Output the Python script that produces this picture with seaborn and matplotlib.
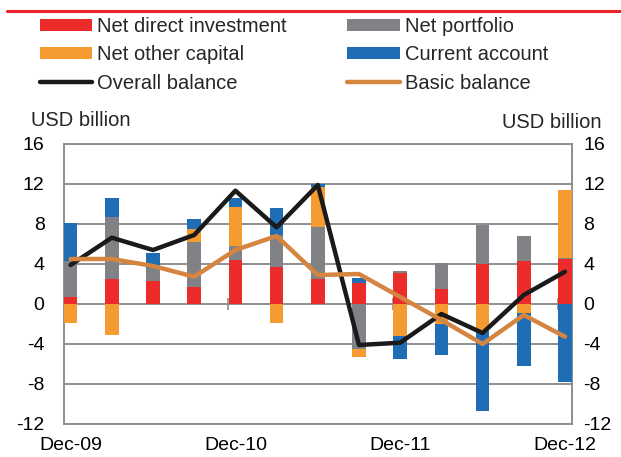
import numpy as np
import pandas as pd
import matplotlib
matplotlib.use("Agg")
import matplotlib.pyplot as plt
from matplotlib.patches import Patch
from matplotlib.lines import Line2D
import seaborn as sns

# ---- data (USD billion, quarterly Dec-09 .. Dec-12) ----
quarters = ["Dec-09", "Mar-10", "Jun-10", "Sep-10", "Dec-10", "Mar-11", "Jun-11",
            "Sep-11", "Dec-11", "Mar-12", "Jun-12", "Sep-12", "Dec-12"]
net_direct = [0.73, 2.5, 2.33, 1.73, 4.4, 3.73, 2.47, 2.07, 3.07, 1.5, 4.0, 4.3, 4.47]
net_portfolio = [3.57, 6.17, 1.27, 4.5, 1.4, 3.17, 5.2, -4.53, 0.26, 2.63, 3.9, 2.5, 0.16]
net_other = [-1.93, -3.1, 0.0, 1.24, 3.93, -1.93, 4.0, -0.74, -3.2, -2.0, -2.7, -0.87, 6.77]
current_account = [3.77, 1.9, 1.47, 1.0, 0.84, 2.73, 0.33, 0.5, -2.33, -3.1, -7.97, -5.33, -7.83]
overall_balance = [3.9, 6.63, 5.4, 6.9, 11.33, 7.67, 11.9, -4.1, -3.87, -1.0, -2.9, 0.9, 3.23]
basic_balance = [4.5, 4.5, 3.8, 2.73, 5.4, 6.8, 2.9, 3.0, 0.7, -1.6, -4.0, -1.1, -3.27]
tick_labels = ["Dec-09", "Dec-10", "Dec-11", "Dec-12"]
y_ticks = [16, 12, 8, 4, 0, -4, -8, -12]

bar_series = [("Net direct investment", net_direct, "#EC2B2B"),
              ("Net portfolio", net_portfolio, "#818285"),
              ("Net other capital", net_other, "#F59B2F"),
              ("Current account", current_account, "#1F6DB5")]
line_series = [("Overall balance", overall_balance, "#1A1A1A"),
               ("Basic balance", basic_balance, "#D5853F")]

sns.set_theme(style="white")
plt.rcParams["font.family"] = ["Liberation Sans", "DejaVu Sans"]

GRID = "#8E8E90"
FS_TICK = 14
FS_TEXT = 14.5

fig = plt.figure(figsize=(6.21, 4.57), dpi=100)
ax = fig.add_axes([64 / 621, 33 / 457, 508 / 621, 280 / 457])

df = pd.DataFrame({"q": quarters, "x": np.arange(len(quarters))})
x = df["x"].to_numpy()

pos_bottom = np.zeros(len(x))
neg_bottom = np.zeros(len(x))
width = 0.33
for name, vals, col in bar_series:
    v = np.array(vals, dtype=float)
    pos = np.where(v > 0, v, 0)
    neg = np.where(v < 0, v, 0)
    ax.bar(x, pos, width=width, bottom=pos_bottom, color=col, linewidth=0, zorder=3)
    ax.bar(x, neg, width=width, bottom=neg_bottom, color=col, linewidth=0, zorder=3)
    pos_bottom += pos
    neg_bottom += neg

for name, vals, col in line_series:
    d = pd.DataFrame({"x": x, "v": vals})
    sns.lineplot(data=d, x="x", y="v", ax=ax, color=col, linewidth=3.2, zorder=4,
                 legend=False)

ymin, ymax = -12, 16
ax.set_ylim(ymin, ymax)
ax.set_xlim(-0.16, 12.17)
ax.set_yticks(y_ticks)
ax.set_yticklabels([str(t) for t in y_ticks], fontsize=FS_TICK)
ax.set_xticks([0, 4, 8, 12])
ax.set_xticklabels(tick_labels, fontsize=FS_TICK)
ax.tick_params(axis="x", length=0, pad=9, colors="black")
ax.tick_params(axis="y", length=0, pad=14, colors="black")
ax.set_xlabel("")
ax.set_ylabel("")
ax.grid(axis="y", color=GRID, linewidth=1.4, zorder=0)
ax.grid(axis="x", visible=False)
for s in ax.spines.values():
    s.set_color(GRID)
    s.set_linewidth(1.4)

# right axis labels
ax2 = ax.twinx()
ax2.set_ylim(ymin, ymax)
ax2.set_yticks(y_ticks)
ax2.set_yticklabels([str(t) for t in y_ticks], fontsize=FS_TICK)
ax2.tick_params(axis="y", length=0, pad=8, colors="black")
ax2.grid(False)
for s in ax2.spines.values():
    s.set_visible(False)

# small tick marks crossing the zero line
sec = ax.secondary_xaxis((0 - ymin) / (ymax - ymin))
sec.set_xticks([3.82, 7.82, 11.82])
sec.tick_params(direction="inout", length=9, width=1.2, color=GRID, labelbottom=False,
                labeltop=False)
for s in sec.spines.values():
    s.set_visible(False)

# unit labels
fig.text(81 / 621, 1 - 120 / 457, "USD billion", fontsize=FS_TEXT, ha="center", va="center")
fig.text(552 / 621, 1 - 123 / 457, "USD billion", fontsize=FS_TEXT, ha="center", va="center")

# top red rule
fig.add_artist(Line2D([7 / 621, 1.0], [1 - 11 / 457, 1 - 11 / 457], color="#E8232A",
                      linewidth=2.2, transform=fig.transFigure))

# legend (column-major order for row-wise reading)
h = {n: Patch(facecolor=c, edgecolor="none") for n, _, c in bar_series}
for n, _, c in line_series:
    h[n] = Line2D([0], [0], color=c, linewidth=3.2)
order = ["Net direct investment", "Net other capital", "Overall balance",
         "Net portfolio", "Current account", "Basic balance"]
fig.legend([h[n] for n in order], order, loc="upper left",
           bbox_to_anchor=(40 / 621, 1 - 17 / 457), ncol=2, frameon=False,
           fontsize=FS_TEXT, handlelength=2.6, handleheight=0.55, handletextpad=0.25,
           columnspacing=3.0, labelspacing=0.46, borderpad=0, borderaxespad=0)

fig.savefig("out.png", dpi=100)
